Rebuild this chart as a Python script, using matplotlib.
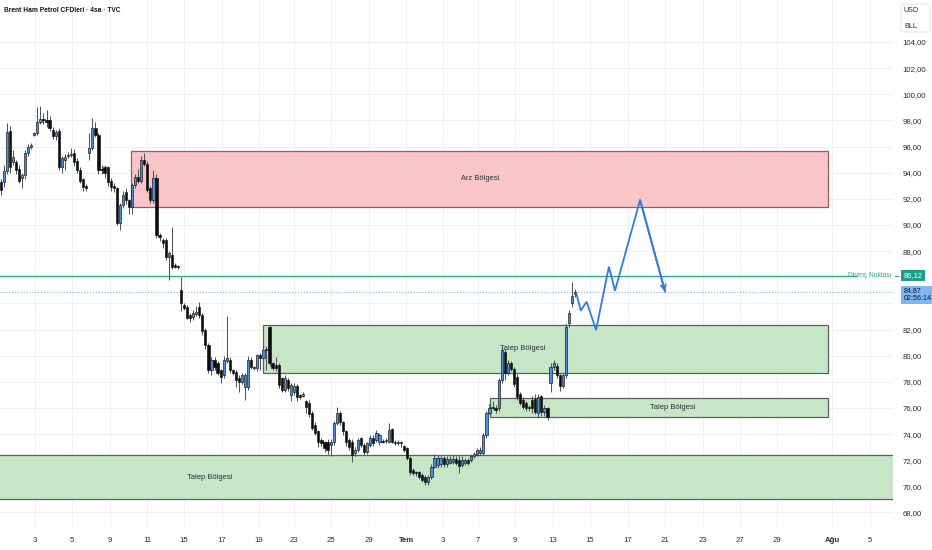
import matplotlib
matplotlib.use("Agg")
import matplotlib.pyplot as plt
import matplotlib.transforms as mtransforms
from matplotlib.patches import Rectangle, FancyBboxPatch

plt.rcParams['font.family'] = ['Liberation Sans Narrow', 'Liberation Sans', 'DejaVu Sans']

# ---------------- data ----------------
opens = [93.3, 93.3, 94.1, 97.2, 94.8, 94.8, 94.3, 93.6, 93.8, 95.5,
         96.0, 96.9, 97.0, 97.9, 98.1, 98.0, 98.0, 97.3, 96.8, 97.2,
         94.4, 95.0, 95.3, 95.35, 95.5, 94.9, 94.2, 93.5, 92.95, 95.5,
         95.9, 97.4, 96.9, 94.3, 94.4, 94.4, 93.4, 93.0, 92.8, 90.15,
         91.5, 92.5, 91.9, 91.4, 93.06, 93.7, 93.4, 95.0, 94.7, 92.8,
         91.9, 93.6, 89.25, 88.85, 88.85, 87.55, 87.7, 86.94, 86.85, 85.0,
         83.9, 83.7, 83.1, 82.95, 83.15, 83.7, 83.1, 81.95, 80.8, 78.9,
         79.7, 79.4, 78.9, 78.5, 79.6, 79.7, 78.9, 78.75, 78.3, 78.0,
         77.6, 77.6, 79.7, 79.1, 79.05, 80.05, 79.8, 80.4, 82.2, 79.4,
         79.3, 79.3, 78.3, 77.4, 78.1, 77.0, 77.2, 77.7, 77.0, 76.9,
         76.5, 76.4, 75.6, 74.7, 74.2, 73.55, 73.4, 73.4, 73.2, 73.4,
         74.85, 75.6, 74.9, 74.2, 73.55, 73.4, 72.55, 72.8, 73.7, 73.2,
         72.6, 73.2, 73.7, 73.55, 73.4, 73.5, 73.45, 73.4, 74.4, 73.4,
         73.35, 73.4, 73.1, 72.9, 72.2, 71.25, 71.1, 71.1, 70.9, 70.75,
         70.3, 70.7, 71.5, 71.6, 71.7, 72.2, 71.7, 71.8, 71.85, 72.1,
         72.05, 71.6, 71.8, 72.05, 72.0, 72.3, 72.4, 72.55, 72.55, 73.9,
         75.6, 76.0, 76.0, 76.0, 78.1, 80.3, 78.7, 79.4, 79.0, 78.4,
         77.1, 76.6, 76.4, 76.05, 76.6, 76.7, 75.6, 76.9, 75.7, 76.0,
         77.9, 79.1, 79.2, 78.5, 77.7, 78.5, 82.5, 84.0, 84.75]
highs = [93.5, 94.6, 97.8, 97.6, 95.7, 95.0, 94.6, 94.0, 95.7, 96.2,
         96.3, 97.1, 99.0, 99.1, 98.6, 98.8, 98.3, 97.5, 97.3, 97.4,
         95.3, 95.4, 95.6, 95.9, 95.8, 95.1, 94.4, 93.6, 93.1, 97.0,
         98.2, 97.9, 97.0, 94.6, 94.6, 94.5, 93.6, 93.2, 92.9, 91.7,
         92.6, 92.8, 92.0, 93.2, 93.9, 94.3, 95.3, 95.5, 94.9, 93.0,
         94.2, 93.9, 89.4, 89.0, 89.0, 88.0, 89.85, 87.1, 86.95, 86.0,
         84.0, 83.9, 83.3, 83.5, 83.8, 84.1, 83.3, 82.1, 81.0, 79.9,
         79.9, 79.6, 79.0, 80.0, 83.0, 79.9, 79.0, 78.9, 78.5, 78.7,
         78.7, 80.0, 79.9, 79.2, 80.1, 80.2, 80.8, 80.7, 82.35, 79.5,
         79.9, 79.4, 78.4, 78.5, 78.3, 77.9, 77.9, 77.8, 77.1, 77.2,
         76.6, 76.6, 75.8, 74.9, 74.3, 73.7, 73.5, 73.6, 73.6, 75.0,
         76.1, 75.8, 75.0, 74.3, 73.7, 73.6, 73.0, 73.7, 73.8, 73.3,
         73.4, 73.9, 73.9, 74.3, 74.1, 73.6, 73.7, 74.85, 74.5, 73.55,
         73.55, 73.5, 73.2, 73.0, 72.3, 71.4, 71.2, 71.2, 71.0, 70.9,
         70.9, 71.7, 72.5, 72.4, 72.3, 72.3, 72.3, 72.3, 72.4, 72.3,
         72.3, 72.3, 72.2, 72.2, 72.5, 72.6, 72.9, 73.0, 74.1, 75.8,
         76.3, 76.5, 76.2, 78.3, 80.65, 80.5, 79.7, 79.6, 79.1, 78.6,
         77.2, 76.8, 76.5, 76.2, 76.9, 77.1, 77.1, 77.0, 76.2, 76.1,
         79.4, 79.7, 79.4, 78.6, 78.7, 82.4, 83.5, 85.6, 85.1]
lows = [92.3, 92.9, 93.9, 94.0, 94.6, 93.9, 93.2, 92.8, 93.5, 95.3,
        95.8, 96.8, 96.9, 97.7, 97.7, 97.5, 97.2, 96.6, 96.5, 94.2,
        94.0, 94.2, 95.1, 95.2, 94.5, 94.0, 93.2, 92.6, 92.6, 95.0,
        95.7, 96.7, 93.9, 93.9, 93.6, 93.0, 92.6, 92.5, 90.0, 89.6,
        91.3, 91.6, 90.8, 90.8, 92.8, 93.2, 93.2, 94.5, 92.5, 91.7,
        91.7, 89.0, 88.8, 88.2, 87.3, 85.8, 86.6, 86.7, 86.65, 83.4,
        83.5, 82.8, 82.6, 82.7, 83.0, 82.9, 81.6, 80.5, 78.7, 78.5,
        78.9, 78.5, 77.9, 78.3, 79.4, 78.7, 78.5, 77.6, 77.2, 77.8,
        76.6, 77.4, 79.0, 78.9, 78.8, 78.9, 79.6, 78.9, 79.2, 78.9,
        78.8, 77.5, 77.2, 77.2, 77.3, 76.5, 77.0, 76.5, 76.7, 76.8,
        75.6, 75.3, 74.3, 73.9, 73.0, 73.1, 72.6, 72.5, 72.3, 73.2,
        74.7, 74.7, 73.9, 73.1, 72.8, 71.9, 72.3, 72.6, 73.0, 72.4,
        72.5, 73.0, 73.1, 73.4, 73.2, 73.3, 73.3, 73.3, 73.3, 73.2,
        73.2, 73.0, 72.6, 72.0, 70.9, 70.9, 70.8, 70.6, 70.3, 70.1,
        70.1, 70.6, 71.4, 71.4, 71.5, 71.5, 71.5, 71.7, 71.7, 71.6,
        71.0, 71.5, 71.6, 71.6, 71.9, 72.2, 72.3, 72.4, 72.4, 73.7,
        75.5, 75.9, 75.6, 75.8, 77.9, 78.1, 78.5, 78.8, 77.6, 76.6,
        76.2, 75.9, 75.8, 75.8, 75.6, 75.5, 75.3, 75.4, 75.4, 75.1,
        77.2, 78.9, 78.3, 77.3, 77.5, 78.3, 82.2, 83.7, 84.5]
closes = [92.7, 94.1, 97.1, 94.4, 95.2, 94.2, 93.4, 93.8, 95.5, 96.0,
          96.1, 97.0, 97.9, 98.1, 98.0, 97.9, 97.4, 96.8, 97.1, 94.4,
          95.1, 95.2, 95.35, 95.45, 94.8, 94.2, 93.4, 92.9, 92.8, 95.9,
          97.4, 96.9, 94.2, 94.2, 94.0, 93.3, 92.9, 92.8, 90.15, 91.5,
          92.3, 91.9, 91.4, 93.06, 93.7, 93.4, 95.0, 94.7, 92.7, 91.9,
          93.6, 89.2, 89.1, 88.6, 87.55, 87.85, 86.8, 86.8, 86.8, 84.0,
          83.65, 82.9, 82.9, 83.3, 83.35, 83.1, 81.85, 80.8, 78.9, 79.7,
          79.1, 78.7, 78.4, 79.7, 79.8, 78.9, 78.7, 78.1, 78.0, 78.5,
          78.5, 79.7, 79.1, 79.05, 80.05, 79.8, 80.4, 80.45, 79.4, 79.05,
          79.05, 77.75, 77.4, 78.3, 77.5, 77.75, 77.7, 76.85, 76.85, 77.05,
          76.1, 75.5, 74.5, 74.1, 73.4, 73.3, 72.9, 72.8, 73.4, 74.85,
          75.6, 74.9, 74.2, 73.4, 73.0, 72.4, 72.8, 73.55, 73.2, 72.6,
          73.3, 73.7, 73.3, 74.1, 73.9, 73.4, 73.5, 74.3, 73.4, 73.35,
          73.4, 73.3, 72.8, 72.2, 71.1, 71.0, 71.0, 70.75, 70.5, 70.3,
          70.75, 71.5, 72.2, 72.2, 72.2, 71.7, 72.1, 72.1, 72.1, 71.8,
          71.55, 72.05, 72.0, 71.8, 72.3, 72.45, 72.75, 72.8, 73.9, 75.6,
          76.0, 76.1, 75.85, 78.1, 80.4, 78.7, 79.4, 79.0, 77.8, 76.8,
          76.4, 76.1, 76.0, 76.0, 76.0, 75.7, 76.8, 75.7, 76.0, 75.3,
          79.1, 79.4, 78.5, 77.7, 78.5, 82.2, 83.3, 84.6, 84.87]

date_labels = ["3", "5", "9", "11", "15", "17", "19", "23", "25", "29", "Tem",
               "3", "7", "9", "13", "15", "17", "21", "23", "27", "29", "Ağu", "5"]
date_bars = [11.2, 23.3, 35.8, 47.9, 60.0, 72.4, 84.6, 96.0, 108.1, 120.6, 132.7,
             144.8, 156.2, 168.3, 180.8, 192.9, 205.3, 217.4, 229.9, 242.0, 254.1,
             272.1, 284.5]
month_labels = ["Tem", "Ağu"]

price_ticks = list(range(68, 106, 2))
hidden_price_labels = [84, 86]

zone_names = ["Arz Bölgesi", "Talep Bölgesi", "Talep Bölgesi", "Talep Bölgesi"]
zone_low = [91.38, 78.67, 75.31, 69.03]
zone_high = [95.66, 82.35, 76.76, 72.40]
zone_start = [42.7, 85.9, 160.2, -2.0]
zone_end = [270.8, 270.8, 270.8, 300.0]
zone_label_bar = [156.9, 171.0, 220.1, 68.5]
zone_kind = ["supply", "demand", "demand", "demand"]

resistance_name = "Direnç Noktası"
resistance_price = 86.12
countdown = "02:56:14"

path_bars = [188.5, 189.9, 191.8, 194.9, 199.1, 201.1, 209.3, 217.5]
path_prices = [84.72, 83.44, 84.13, 81.96, 86.81, 84.97, 91.91, 84.90]

title = "Brent Ham Petrol CFDleri · 4sa · TVC"

# ---------------- figure ----------------
W, H = 932, 550
fig = plt.figure(figsize=(W / 100, H / 100), dpi=100)
fig.patch.set_facecolor("white")
ax = fig.add_axes([0, 23 / H, 893 / W, 527 / H])
ax.set_xlim(-0.23, 292.1)
ax.set_ylim(66.89, 107.21)
for s in ax.spines.values():
    s.set_visible(False)

grid_c = "#eef0f4"
ax.set_yticks(price_ticks)
ax.set_yticklabels(["" if p in hidden_price_labels else f"{p:.2f}".replace(".", ",")
                    for p in price_ticks])
ax.yaxis.tick_right()
ax.set_xticks(date_bars)
ax.set_xticklabels(date_labels)
for lbl in ax.get_xticklabels():
    if lbl.get_text() in month_labels:
        lbl.set_fontweight("bold")
ax.tick_params(axis="both", length=0, labelsize=5.6, colors="#2a2e39")
ax.tick_params(axis="y", pad=7)
ax.tick_params(axis="x", pad=7)
ax.grid(True, color=grid_c, lw=0.8, zorder=0)
ax.set_axisbelow(True)

# zones
for nm, lo, hi, x0, x1, xl, kind in zip(zone_names, zone_low, zone_high, zone_start,
                                        zone_end, zone_label_bar, zone_kind):
    if kind == "supply":
        fc, ec = "#f8c6c8", "#9c5a5e"
    else:
        fc, ec = "#c6e6c6", "#5a5f5a"
    ax.add_patch(Rectangle((x0, lo), x1 - x0, hi - lo, facecolor=fc, edgecolor=ec,
                           lw=0.9, zorder=1))
    ax.text(xl, (lo + hi) / 2, nm, ha="center", va="center", fontsize=5.4,
            color="#2a2e39", zorder=6)

# resistance line & last price line
teal = "#2aa596"
ax.axhline(resistance_price, xmin=0, xmax=856 / 893, color=teal, lw=0.9, zorder=2)
ax.axhline(closes[-1], color="#7db7ef", lw=0.8, ls=(0, (1, 1.6)), zorder=2)

# candles
n = len(closes)
xs = list(range(n))
up_c, dn_c = "#4a90e2", "#0d0d0d"
colors = [up_c if c >= o else dn_c for o, c in zip(opens, closes)]
bottoms = [min(o, c) for o, c in zip(opens, closes)]
heights = [max(abs(c - o), 0.08) for o, c in zip(opens, closes)]
ax.vlines(xs, lows, highs, color="#50555c", lw=0.75, zorder=3)
ax.bar(xs, heights, bottom=bottoms, width=0.72, color=colors, edgecolor="#111111",
       linewidth=0.45, zorder=4)

# projection path
pcol = "#2f7be0"
ax.plot(path_bars, path_prices, color=pcol, lw=1.3, zorder=5, solid_joinstyle="miter")
ax.annotate("", xy=(path_bars[-1], path_prices[-1]),
            xytext=(path_bars[-2], path_prices[-2]),
            arrowprops=dict(arrowstyle="->", color=pcol, lw=1.3, shrinkA=0, shrinkB=0,
                            mutation_scale=9), zorder=5)

# right-axis tags
trans = mtransforms.blended_transform_factory(ax.transAxes, ax.transData)
ax.text(0.9985, resistance_price, resistance_name, transform=trans, ha="right",
        va="center", fontsize=4.8, color=teal, zorder=7, clip_on=False)
ax.plot([1.002, 1.006], [resistance_price, resistance_price], transform=trans,
        color=teal, lw=0.8, clip_on=False)
ax.text(1.0115, resistance_price, f"{resistance_price:.2f}".replace(".", ","),
        transform=trans, ha="left", va="center", fontsize=5.4, color="white",
        bbox=dict(boxstyle="square,pad=0.3", fc="#1f9d8c", ec="none"), clip_on=False,
        zorder=8)
tag_tr = mtransforms.offset_copy(trans, fig=fig, x=0, y=4.5, units="dots")
ax.text(1.0115, closes[-1], f"{closes[-1]:.2f}".replace(".", ",") + "\n" + countdown,
        transform=tag_tr, ha="left", va="top", fontsize=5.1, color="#131722",
        linespacing=1.15,
        bbox=dict(boxstyle="square,pad=0.25", fc="#7db8f5", ec="none"), clip_on=False,
        zorder=8)

# currency box
fig.patches.append(FancyBboxPatch((901 / W, 1 - 32 / H), 29 / W, 28 / H,
                                  boxstyle="round,pad=0,rounding_size=0.004",
                                  transform=fig.transFigure, facecolor="white",
                                  edgecolor="#e0e3eb", lw=0.7))
fig.text(904 / W, 1 - 11 / H, "USD", fontsize=5.2, color="#2a2e39", va="center")
fig.text(904 / W, 1 - 26 / H, "BLL", fontsize=5.2, color="#2a2e39", va="center")

fig.text(4 / W, 1 - 10 / H, title, fontsize=4.8, fontweight="bold", color="#131722",
         va="center", ha="left")

fig.savefig("out.png", dpi=100, facecolor="white")
